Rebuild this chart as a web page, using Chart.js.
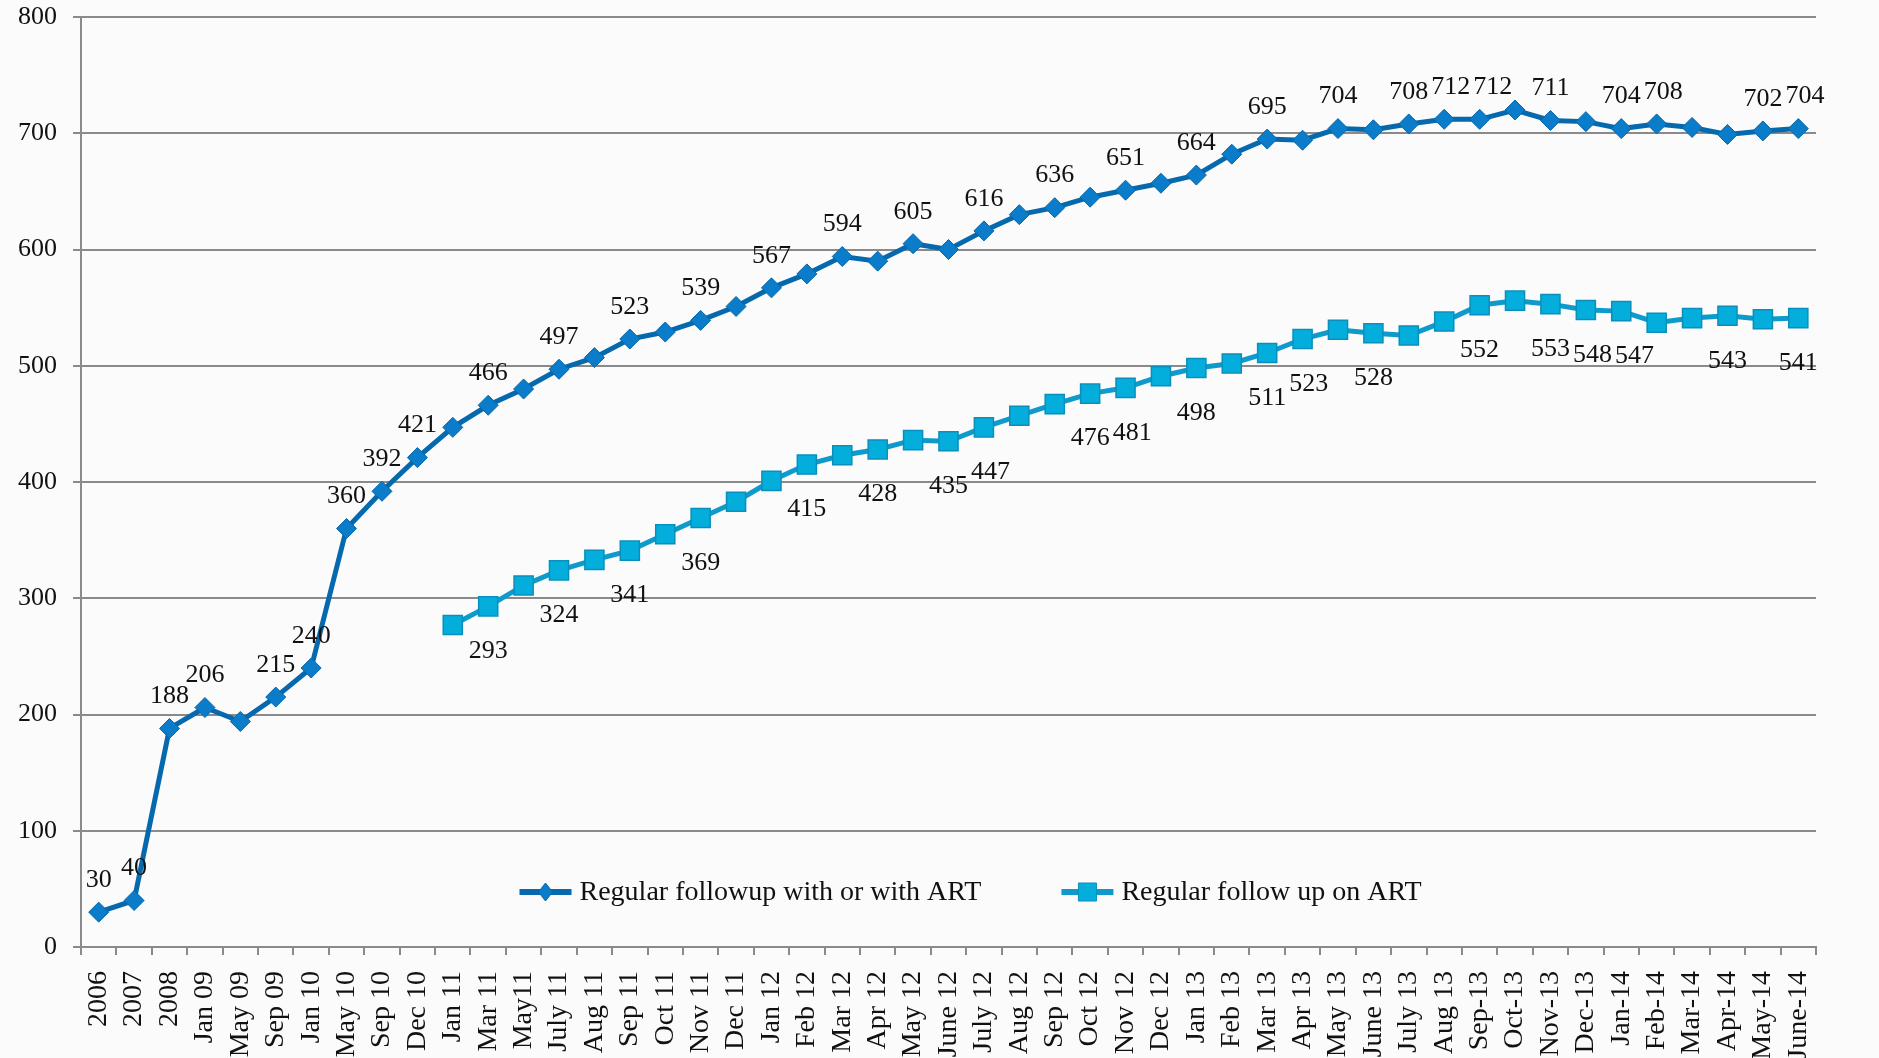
<!DOCTYPE html>
<html>
<head>
<meta charset="utf-8">
<script src="https://cdn.jsdelivr.net/npm/chart.js@4.4.1/dist/chart.umd.min.js"></script>
<style>
  html, body { margin: 0; padding: 0; background: #fbfbfb; }
  canvas { display: block; }
</style>
</head>
<body>
<canvas id="chart" width="1879" height="1058"></canvas>
<script>
// Reporting periods along the horizontal axis
const categories = [
  '2006', '2007', '2008', 'Jan 09', 'May 09', 'Sep 09', 'Jan 10', 'May 10', 'Sep 10', 'Dec 10',
  'Jan 11', 'Mar 11', 'May11', 'July 11', 'Aug 11', 'Sep 11', 'Oct 11', 'Nov 11', 'Dec 11', 'Jan 12',
  'Feb 12', 'Mar 12', 'Apr 12', 'May 12', 'June 12', 'July 12', 'Aug 12', 'Sep 12', 'Oct 12', 'Nov 12',
  'Dec 12', 'Jan 13', 'Feb 13', 'Mar 13', 'Apr 13', 'May 13', 'June 13', 'July 13', 'Aug 13', 'Sep-13',
  'Oct-13', 'Nov-13', 'Dec-13', 'Jan-14', 'Feb-14', 'Mar-14', 'Apr-14', 'May-14', 'June-14'
];

// Patients in regular follow-up, with or without ART
const followupAll = [
  30, 40, 188, 206, 194, 215, 240, 360, 392, 421,
  447, 466, 480, 497, 507, 523, 529, 539, 551, 567,
  579, 594, 590, 605, 600, 616, 630, 636, 645, 651,
  657, 664, 682, 695, 694, 704, 703, 708, 712, 712,
  720, 711, 710, 704, 708, 705, 699, 702, 704
];

// Patients in regular follow-up on ART (recorded from Jan 11)
const followupART = [
  null, null, null, null, null, null, null, null, null, null,
  277, 293, 311, 324, 333, 341, 355, 369, 383, 401,
  415, 423, 428, 436, 435, 447, 457, 467, 476, 481,
  491, 498, 502, 511, 523, 531, 528, 526, 538, 552,
  556, 553, 548, 547, 537, 541, 543, 540, 541
];

// Which points carry a value label
const labelledAll = [0, 1, 2, 3, 5, 6, 7, 8, 9, 11, 13, 15, 17, 19, 21, 23, 25, 27, 29, 31, 33, 35, 37, 38, 39, 41, 43, 44, 47, 48];
const labelledART = [11, 13, 15, 17, 20, 22, 24, 25, 28, 29, 31, 33, 34, 36, 39, 41, 42, 43, 46, 48];

const seriesNames = ['Regular followup with or with ART', 'Regular follow up on ART'];
const yTicks = { min: 0, max: 800, step: 100 };

const SERIF = '"Liberation Serif", "DejaVu Serif", serif';
const GRID = '#8a8a8a';

// Paint the page background
const backdrop = {
  id: 'backdrop',
  beforeDraw(chart) {
    const { ctx, width, height } = chart;
    ctx.save();
    ctx.fillStyle = '#fbfbfb';
    ctx.fillRect(0, 0, width, height);
    ctx.restore();
  }
};

// Value labels above / below the selected points; a label that would run
// into its left neighbour (same row) is nudged right until it clears it.
const pointValueLabels = {
  id: 'pointValueLabels',
  afterDatasetsDraw(chart, args, opts) {
    const ctx = chart.ctx;
    ctx.save();
    ctx.font = opts.font;
    ctx.fillStyle = opts.color;
    ctx.textAlign = 'center';
    ctx.textBaseline = 'middle';
    chart.data.datasets.forEach((ds, di) => {
      const meta = chart.getDatasetMeta(di);
      let prev = null;
      (ds.labelled || []).forEach(i => {
        const el = meta.data[i];
        const v = ds.data[i];
        if (!el || v == null) return;
        const text = String(v);
        const w = ctx.measureText(text).width;
        const cy = el.y + ds.labelShift;
        let cx = el.x;
        if (prev && Math.abs(cy - prev.cy) < opts.rowHeight && cx - w / 2 < prev.right + opts.gap) {
          cx = prev.right + opts.gap + w / 2;
        }
        ctx.fillText(text, cx, cy);
        prev = { right: cx + w / 2, cy };
      });
    });
    ctx.restore();
  }
};

// Legend drawn inside the plot, near its bottom edge
const innerLegend = {
  id: 'innerLegend',
  afterDraw(chart, args, opts) {
    const { ctx, chartArea } = chart;
    ctx.save();
    ctx.font = opts.font;
    ctx.textBaseline = 'middle';
    ctx.textAlign = 'left';
    const sample = opts.sampleWidth, gap = opts.textGap, itemGap = opts.itemGap;
    const items = chart.data.datasets.map(ds => ({ ds, w: sample + gap + ctx.measureText(ds.label).width }));
    const total = items.reduce((s, it) => s + it.w, 0) + itemGap * (items.length - 1);
    let x = (chartArea.left + chartArea.right) / 2 + opts.shiftX - total / 2;
    const y = chartArea.bottom - opts.fromBottom;
    items.forEach(({ ds, w }) => {
      const mx = x + sample / 2;
      ctx.strokeStyle = ds.borderColor;
      ctx.lineWidth = 6;
      ctx.beginPath();
      ctx.moveTo(x, y);
      ctx.lineTo(x + sample, y);
      ctx.stroke();
      ctx.fillStyle = ds.pointBackgroundColor;
      ctx.strokeStyle = ds.pointBorderColor;
      ctx.lineWidth = 1;
      ctx.beginPath();
      if (ds.pointStyle === 'rect') {
        ctx.rect(mx - 9, y - 9, 18, 18);
      } else {
        ctx.moveTo(mx, y - 9);
        ctx.lineTo(mx + 7, y);
        ctx.lineTo(mx, y + 9);
        ctx.lineTo(mx - 7, y);
        ctx.closePath();
      }
      ctx.fill();
      ctx.stroke();
      ctx.fillStyle = '#111';
      ctx.fillText(ds.label, x + sample + gap, y + 1);
      x += w + itemGap;
    });
    ctx.restore();
  }
};

new Chart(document.getElementById('chart'), {
  type: 'line',
  data: {
    labels: categories,
    datasets: [
      {
        label: seriesNames[0],
        data: followupAll,
        labelled: labelledAll,
        labelShift: -32,
        borderColor: '#0769ad',
        borderWidth: 5,
        pointStyle: 'rectRot',
        pointRadius: 10,
        pointHoverRadius: 10,
        pointBackgroundColor: '#0a7cc9',
        pointBorderColor: '#0767a8',
        pointBorderWidth: 1,
        tension: 0,
        spanGaps: false
      },
      {
        label: seriesNames[1],
        data: followupART,
        labelled: labelledART,
        labelShift: 45,
        borderColor: '#0e9bcb',
        borderWidth: 5,
        pointStyle: 'rect',
        pointRadius: 13.5,
        pointHoverRadius: 13.5,
        pointBackgroundColor: '#04aedc',
        pointBorderColor: '#0a8fbc',
        pointBorderWidth: 1.5,
        tension: 0,
        spanGaps: false
      }
    ]
  },
  options: {
    responsive: false,
    animation: false,
    layout: { padding: { top: 17, right: 63, left: 0, bottom: 0 } },
    plugins: {
      legend: { display: false },
      tooltip: { enabled: false },
      pointValueLabels: { font: '26px ' + SERIF, color: '#111', gap: 3, rowHeight: 18 },
      innerLegend: { font: '28px ' + SERIF, sampleWidth: 52, textGap: 8, itemGap: 80, shiftX: 22, fromBottom: 55 }
    },
    scales: {
      x: {
        offset: true,
        afterFit(scale) {
          scale.height = 111;
          scale.paddingLeft = 0;
          scale.paddingRight = 0;
        },
        grid: { offset: true, drawOnChartArea: false, color: GRID, lineWidth: 2, tickLength: 8 },
        border: { color: GRID, width: 2 },
        ticks: {
          autoSkip: false, minRotation: 90, maxRotation: 90, padding: 16,
          color: '#111', font: { family: SERIF, size: 28 }
        }
      },
      y: {
        min: yTicks.min,
        max: yTicks.max,
        afterFit(scale) {
          scale.width = 81;
          scale.paddingTop = 0;
          scale.paddingBottom = 0;
        },
        grid: { color: GRID, lineWidth: 2, tickLength: 8 },
        border: { color: GRID, width: 2 },
        ticks: {
          stepSize: yTicks.step, padding: 16,
          color: '#111', font: { family: SERIF, size: 26 }
        }
      }
    }
  },
  plugins: [backdrop, pointValueLabels, innerLegend]
});
</script>
</body>
</html>
